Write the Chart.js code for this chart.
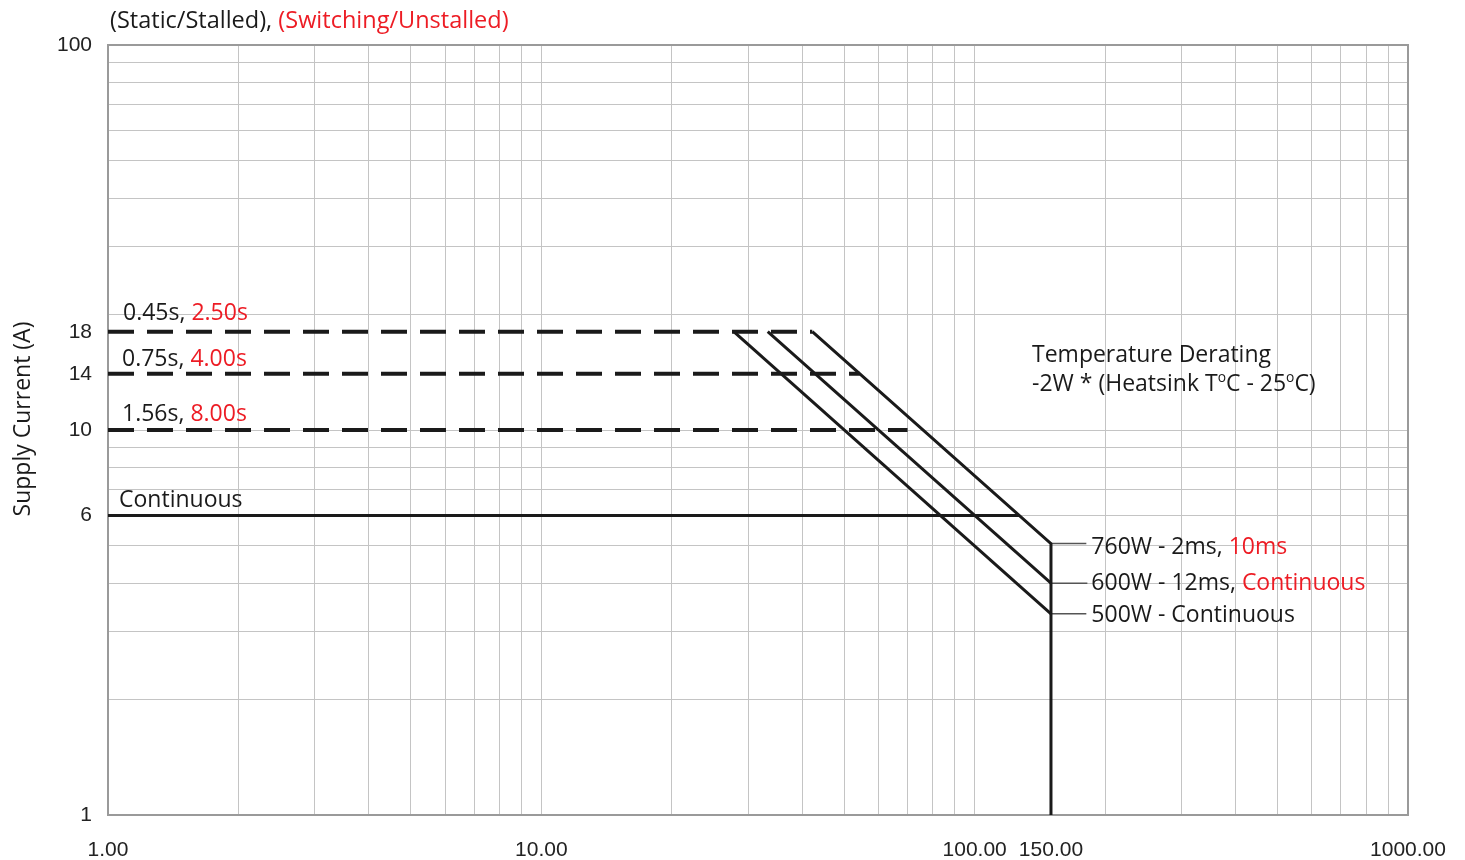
<!DOCTYPE html>
<html>
<head>
<meta charset="utf-8">
<script src="https://cdn.jsdelivr.net/npm/chart.js@4.4.1/dist/chart.umd.min.js"></script>
<style>
  html, body { margin: 0; padding: 0; background: #fff; }
  #wrap { width: 1465px; height: 860px; position: relative; }
</style>
</head>
<body>
<div id="wrap"><canvas id="derating"></canvas></div>
<script>
// Tick / grid values
const xGridValues = [1, 2, 3, 4, 5, 6, 7, 8, 9, 10, 20, 30, 40, 50, 60, 70, 80, 90,
    100, 150, 200, 300, 400, 500, 600, 700, 800, 900, 1000];
const xLabelValues = [1, 10, 100, 150, 1000];
const xLabelTexts = ['1.00', '10.00', '100.00', '150.00', '1000.00'];
const yGridValues = [1, 2, 3, 4, 5, 6, 7, 8, 9, 10, 14, 18, 20, 30, 40, 50, 60, 70, 80, 90, 100];
const yLabelValues = [1, 6, 10, 14, 18, 100];
const noGridValues = [14, 18, 150];

// Series (supply voltage V, supply current A)
const pulse18 = [[1, 18], [42.2, 18]];
const pulse14 = [[1, 14], [54.3, 14]];
const pulse10 = [[1, 10], [70, 10]];
const continuous6 = [[1, 6], [126.7, 6]];
const power760 = [[42.2, 18], [150, 5.07], [150, 1]];
const power600 = [[33.3, 18], [150, 4.0]];
const power500 = [[27.8, 18], [150, 3.33]];
const leader760 = [[150, 5.07], [181, 5.07]];
const leader600 = [[150, 4.0], [182, 4.0]];
const leader500 = [[150, 3.33], [181, 3.33]];

const RED = '#ed1c24';
const INK = '#1a1a1a';
const TXT_FONT = '"Open Sans", "DejaVu Sans", sans-serif';

function toPoints(arr) {
    return arr.map(p => ({ x: p[0], y: p[1] }));
}

function lineSet(data, opts) {
    return Object.assign({
        data: toPoints(data),
        borderColor: INK,
        borderWidth: 3,
        pointRadius: 0,
        fill: false,
        tension: 0
    }, opts || {});
}

// Text annotations: anchor in data space, offsets in px
const notes = [
    { x: 1, y: 18, dx: 15, dy: -12, parts: [['0.45s, ', INK], ['2.50s', RED]] },
    { x: 1, y: 14, dx: 14, dy: -8, parts: [['0.75s, ', INK], ['4.00s', RED]] },
    { x: 1, y: 10, dx: 14, dy: -9, parts: [['1.56s, ', INK], ['8.00s', RED]] },
    { x: 1, y: 6, dx: 11, dy: -8, parts: [['Continuous', INK]] },
    { x: 181, y: 5.07, dx: 5, dy: 10, parts: [['760W - 2ms, ', INK], ['10ms', RED]] },
    { x: 182, y: 4.0, dx: 4, dy: 7, parts: [['600W - 12ms, ', INK], ['Continuous', RED]] },
    { x: 181, y: 3.33, dx: 5, dy: 8, parts: [['500W - Continuous', INK]] }
];

function drawParts(ctx, x, y, parts, size) {
    let cx = x;
    parts.forEach(p => {
        const sz = p[2] ? size * 0.6 : size;
        ctx.font = sz + 'px ' + TXT_FONT;
        ctx.fillStyle = p[1];
        ctx.fillText(p[0], cx, y - (p[2] ? size * 0.38 : 0));
        cx += ctx.measureText(p[0]).width;
    });
}

const decorPlugin = {
    id: 'decor',
    beforeDatasetsDraw(chart) {
        const { ctx, chartArea: a } = chart;
        ctx.save();
        ctx.strokeStyle = '#9a9a9a';
        ctx.lineWidth = 2;
        ctx.strokeRect(a.left, a.top, a.right - a.left, a.bottom - a.top);
        ctx.restore();
    },
    afterDatasetsDraw(chart) {
        const { ctx, scales } = chart;
        ctx.save();
        ctx.textBaseline = 'alphabetic';
        ctx.textAlign = 'left';

        // header
        drawParts(ctx, 110, 28, [['(Static/Stalled), ', INK], ['(Switching/Unstalled)', RED]], 23.5);

        // temperature derating note
        drawParts(ctx, 1032, 362, [['Temperature Derating', INK]], 23);
        drawParts(ctx, 1032, 391, [['-2W * (Heatsink T', INK], ['o', INK, true], ['C - 25', INK],
            ['o', INK, true], ['C)', INK]], 23);

        notes.forEach(n => {
            const px = scales.x.getPixelForValue(n.x) + n.dx;
            const py = scales.y.getPixelForValue(n.y) + n.dy;
            drawParts(ctx, px, py, n.parts, 23);
        });

        // y axis title
        ctx.translate(30, 419);
        ctx.rotate(-Math.PI / 2);
        ctx.textAlign = 'center';
        ctx.font = '23px ' + TXT_FONT;
        ctx.fillStyle = INK;
        ctx.fillText('Supply Current (A)', 0, 0);
        ctx.restore();
    }
};

function gridColor(c) {
    if (c.tick && noGridValues.includes(c.tick.value)) return 'rgba(0,0,0,0)';
    return '#c4c4c4';
}

new Chart(document.getElementById('derating'), {
    type: 'line',
    data: {
        datasets: [
            lineSet(pulse18, { borderDash: [26, 13], borderWidth: 4 }),
            lineSet(pulse14, { borderDash: [26, 13], borderWidth: 4 }),
            lineSet(pulse10, { borderDash: [26, 13], borderWidth: 4 }),
            lineSet(continuous6),
            lineSet(power760),
            lineSet(power600),
            lineSet(power500),
            lineSet(leader760, { borderColor: '#555', borderWidth: 1.5 }),
            lineSet(leader600, { borderColor: '#555', borderWidth: 1.5 }),
            lineSet(leader500, { borderColor: '#555', borderWidth: 1.5 })
        ]
    },
    options: {
        responsive: true,
        maintainAspectRatio: false,
        animation: false,
        devicePixelRatio: 1,
        layout: { padding: { top: 45, right: 57, left: 0, bottom: 0 } },
        plugins: {
            legend: { display: false },
            tooltip: { enabled: false }
        },
        scales: {
            x: {
                type: 'logarithmic',
                min: 1,
                max: 1000,
                afterBuildTicks: scale => {
                    scale.ticks = xGridValues.map(v => ({ value: v }));
                },
                afterFit: scale => {
                    scale.height = 45;
                    scale.paddingLeft = 0;
                    scale.paddingRight = 0;
                },
                grid: { color: gridColor, lineWidth: 1, drawTicks: false },
                border: { display: false },
                ticks: {
                    autoSkip: false,
                    maxRotation: 0,
                    padding: 23,
                    color: '#222',
                    font: { family: '"Liberation Sans", Arial, sans-serif', size: 21 },
                    callback: value => {
                        const i = xLabelValues.indexOf(value);
                        return i >= 0 ? xLabelTexts[i] : '';
                    }
                }
            },
            y: {
                type: 'logarithmic',
                min: 1,
                max: 100,
                afterBuildTicks: scale => {
                    scale.ticks = yGridValues.map(v => ({ value: v }));
                },
                afterFit: scale => { scale.width = 108; },
                grid: { color: gridColor, lineWidth: 1, drawTicks: false },
                border: { display: false },
                ticks: {
                    autoSkip: false,
                    padding: 16,
                    color: '#222',
                    font: { family: '"Liberation Sans", Arial, sans-serif', size: 21 },
                    callback: value => yLabelValues.includes(value) ? String(value) : ''
                }
            }
        }
    },
    plugins: [decorPlugin]
});
</script>
</body>
</html>
